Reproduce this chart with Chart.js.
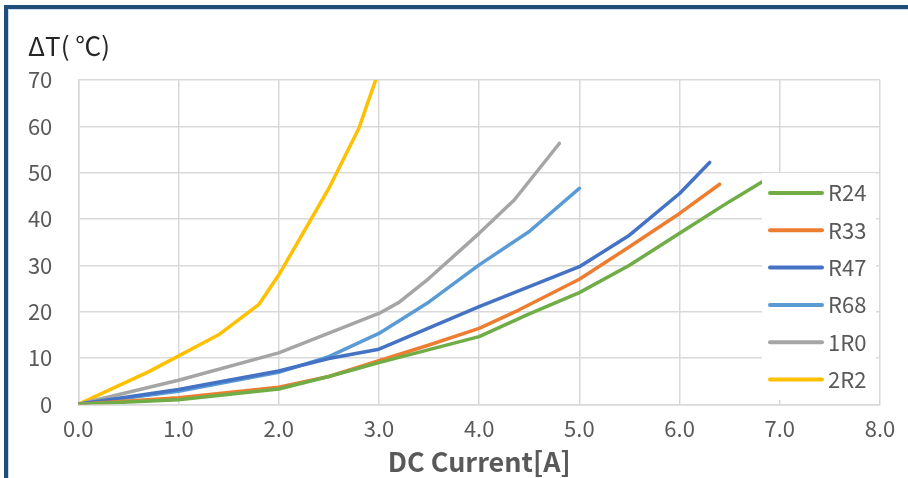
<!DOCTYPE html>
<html>
<head>
<meta charset="utf-8">
<script src="https://cdn.jsdelivr.net/npm/chart.js@4.4.1/dist/chart.umd.min.js"></script>
<style>
  html, body { margin: 0; padding: 0; background: #fff; overflow: hidden; }
  #wrap { position: relative; width: 908px; height: 478px; }
  #frame {
    position: absolute; left: 4px; top: 5px; width: 1000px; height: 1000px;
    border-top: 4px solid #1F4E79; border-left: 4px solid #1F4E79;
    box-shadow: inset 1px 1px 0 #c9dbee;
  }
  #chart { position: absolute; left: 0; top: 0; }
</style>
</head>
<body>
<div id="wrap">
  <div id="frame"></div>
  <canvas id="chart" width="908" height="478"></canvas>
</div>
<script>
// series names and colours
const seriesNames = ["R24", "R33", "R47", "R68", "1R0", "2R2"];
const seriesColors = ["#70AD47", "#ED7D31", "#4472C4", "#5B9BD5", "#A5A5A5", "#FFC000"];

// DC current [A] / temperature rise [C]
const r24Current = [0, 1.0, 2.0, 2.5, 3.0, 3.5, 4.0, 4.5, 5.0, 5.5, 6.0, 6.5, 6.9];
const r24Rise    = [0, 1.0, 3.3, 6.0, 9.0, 11.8, 14.6, 19.5, 24.1, 30.0, 36.9, 43.8, 49.0];

const r33Current = [0, 1.0, 2.0, 2.5, 3.0, 3.5, 4.0, 4.4, 5.0, 5.5, 6.0, 6.4];
const r33Rise    = [0, 1.4, 3.7, 6.0, 9.4, 12.8, 16.4, 20.4, 27.0, 34.0, 41.2, 47.5];

const r47Current = [0, 1.0, 2.0, 2.5, 3.0, 4.0, 5.0, 5.5, 6.0, 6.3];
const r47Rise    = [0, 3.2, 7.2, 9.9, 11.9, 21.1, 29.7, 36.5, 45.5, 52.2];

const r68Current = [0, 1.0, 2.0, 2.5, 3.0, 3.5, 4.0, 4.5, 5.0];
const r68Rise    = [0, 2.8, 6.9, 10.3, 15.3, 22.1, 30.1, 37.3, 46.6];

const r1r0Current = [0, 1.0, 2.0, 3.0, 3.2, 3.5, 4.0, 4.35, 4.8];
const r1r0Rise    = [0, 5.2, 11.1, 19.6, 22.0, 27.2, 36.9, 44.1, 56.3];

const r2r2Current = [0, 0.7, 1.4, 1.8, 2.0, 2.3, 2.5, 2.8, 3.0];
const r2r2Rise    = [0, 7.0, 15.0, 21.5, 27.9, 39.1, 46.6, 59.6, 72.0];

const xTicks = [0, 1, 2, 3, 4, 5, 6, 7, 8];
const yTicks = [0, 10, 20, 30, 40, 50, 60, 70];

const allCurrent = [r24Current, r33Current, r47Current, r68Current, r1r0Current, r2r2Current];
const allRise = [r24Rise, r33Rise, r47Rise, r68Rise, r1r0Rise, r2r2Rise];

const font = "'Noto Sans CJK JP', 'Noto Sans', sans-serif";
const textGray = "#595959";
const gridGray = "#D9D9D9";

// legend sits inside the plot on a white box, like the source
const boxLegend = {
  id: "boxLegend",
  afterDatasetsDraw(chart) {
    const ctx = chart.ctx;
    ctx.save();
    ctx.fillStyle = "#fff";
    ctx.fillRect(762, 173, 114, 227);
    chart.data.datasets.forEach((ds, i) => {
      const y = 193 + i * 37.3;
      ctx.strokeStyle = ds.borderColor;
      ctx.lineWidth = 4;
      ctx.lineCap = "round";
      ctx.beginPath();
      ctx.moveTo(770, y);
      ctx.lineTo(822, y);
      ctx.stroke();
      ctx.fillStyle = textGray;
      ctx.font = "22px " + font;
      ctx.textBaseline = "middle";
      ctx.textAlign = "left";
      ctx.fillText(ds.label, 828, y);
    });
    ctx.restore();
  }
};

const datasets = seriesNames.map((name, i) => ({
  label: name,
  data: allCurrent[i].map((x, j) => ({ x: x, y: allRise[i][j] })),
  borderColor: seriesColors[i],
  backgroundColor: seriesColors[i],
  borderWidth: 3.5,
  borderCapStyle: "round",
  borderJoinStyle: "round",
  pointRadius: 0,
  tension: 0,
  fill: false
}));

new Chart(document.getElementById("chart").getContext("2d"), {
  type: "line",
  data: { datasets: datasets },
  plugins: [boxLegend],
  options: {
    responsive: false,
    animation: false,
    devicePixelRatio: 1,
    layout: { padding: { left: 28, right: 28, top: 0, bottom: 0 } },
    plugins: {
      legend: { display: false },
      tooltip: { enabled: false },
      title: {
        display: true,
        text: "ΔT( ℃)",
        align: "start",
        color: "#262626",
        font: { family: font, size: 26, weight: "normal" },
        padding: { top: 30.4, bottom: 18.4 }
      }
    },
    scales: {
      x: {
        type: "linear",
        min: 0,
        max: 8,
        afterBuildTicks: (s) => { s.ticks = xTicks.map((v) => ({ value: v })); },
        afterFit: (s) => { s.height = 73.7; },
        ticks: {
          color: textGray,
          font: { family: font, size: 22 },
          padding: 11.5,
          callback: (v) => Number(v).toFixed(1)
        },
        grid: { color: gridGray, lineWidth: 1.5, drawTicks: false },
        border: { color: gridGray, width: 1.5 },
        title: {
          display: true,
          text: "DC Current[A]",
          color: textGray,
          font: { family: font, size: 27, weight: "bold" },
          padding: { top: 3.8, bottom: 0 }
        }
      },
      y: {
        min: 0,
        max: 70,
        afterBuildTicks: (s) => { s.ticks = yTicks.map((v) => ({ value: v })); },
        afterFit: (s) => { s.width = 50.3; },
        ticks: {
          color: textGray,
          font: { family: font, size: 22 },
          padding: 26
        },
        grid: { color: gridGray, lineWidth: 1.5, drawTicks: false },
        border: { color: gridGray, width: 1.5 }
      }
    }
  }
});
</script>
</body>
</html>
